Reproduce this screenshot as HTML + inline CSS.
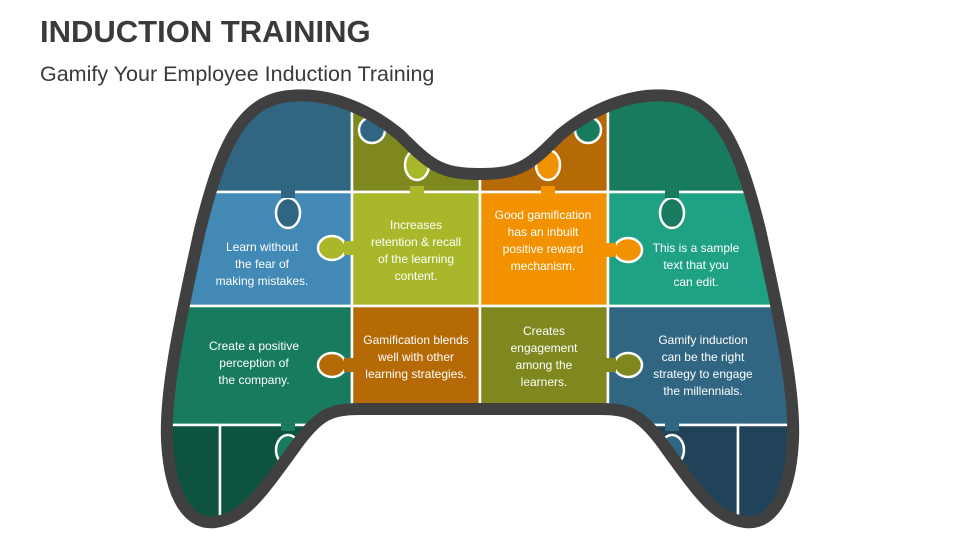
<!DOCTYPE html>
<html><head><meta charset="utf-8"><style>
body{margin:0;width:960px;height:540px;overflow:hidden;background:#fff;font-family:"Liberation Sans",sans-serif}
.t{position:absolute;left:40px;top:14px;font-size:31px;font-weight:bold;color:#3a3a3a}
.s{position:absolute;left:40px;top:62px;font-size:21.5px;color:#3a3a3a}
svg{position:absolute;left:0;top:0}
svg text{font-family:"Liberation Sans",sans-serif;font-size:12px;fill:#fff;text-anchor:middle}
</style></head><body>
<div class="t">INDUCTION TRAINING</div>
<div class="s">Gamify Your Employee Induction Training</div>
<svg width="960" height="540">
<defs><clipPath id="c"><path id="p" d="M290,96 C330,92 370,110 400,135 C430,165 440,174 480,174 C520,174 530,165 560,135 C590,110 630,92 670,96 C720,100 740,150 760,230 C780,320 795,390 793,440 C790,500 770,525 745,522 C715,518 700,495 660,440 C640,415 630,409 600,409 L360,409 C330,409 320,415 300,440 C260,495 245,518 215,522 C190,525 170,500 167,440 C165,390 180,320 200,230 C220,150 240,100 290,96 Z"/></clipPath></defs>
<g clip-path="url(#c)" stroke="#fff" stroke-width="2.5">
<rect x="150" y="80" width="202" height="112" fill="#316683"/>
<rect x="352" y="80" width="128" height="112" fill="#7e881f"/>
<rect x="480" y="80" width="128" height="112" fill="#b56a06"/>
<rect x="608" y="80" width="200" height="112" fill="#187b60"/>
<rect x="150" y="192" width="202" height="114" fill="#4289b5"/>
<rect x="352" y="192" width="128" height="114" fill="#a9b82a"/>
<rect x="480" y="192" width="128" height="114" fill="#f39200"/>
<rect x="608" y="192" width="200" height="114" fill="#1fa283"/>
<rect x="150" y="306" width="202" height="119" fill="#187b60"/>
<rect x="352" y="306" width="128" height="119" fill="#b56a06"/>
<rect x="480" y="306" width="128" height="119" fill="#7e881f"/>
<rect x="608" y="306" width="200" height="119" fill="#316683"/>
<rect x="150" y="425" width="70" height="120" fill="#0e5240"/>
<rect x="220" y="425" width="132" height="120" fill="#0e5240"/>
<rect x="608" y="425" width="130" height="120" fill="#21435a"/>
<rect x="738" y="425" width="70" height="120" fill="#21435a"/>
<ellipse cx="288" cy="213" rx="12" ry="15" fill="#316683"/>
<ellipse cx="417" cy="165" rx="12" ry="15" fill="#a9b82a"/>
<ellipse cx="548" cy="165" rx="12" ry="15" fill="#f39200"/>
<ellipse cx="672" cy="213" rx="12" ry="15" fill="#187b60"/>
<ellipse cx="332" cy="248" rx="14" ry="12" fill="#a9b82a"/>
<ellipse cx="628" cy="250" rx="14" ry="12" fill="#f39200"/>
<ellipse cx="332" cy="365" rx="14" ry="12" fill="#b56a06"/>
<ellipse cx="628" cy="365" rx="14" ry="12" fill="#7e881f"/>
<ellipse cx="288" cy="450" rx="12" ry="15" fill="#187b60"/>
<ellipse cx="672" cy="450" rx="12" ry="15" fill="#316683"/>
<circle cx="372" cy="130" r="13" fill="#316683"/>
<circle cx="588" cy="130" r="13" fill="#187b60"/>
</g>
<g>
<rect x="281" y="190" width="14" height="8" fill="#316683"/>
<rect x="410" y="186" width="14" height="8" fill="#a9b82a"/>
<rect x="541" y="186" width="14" height="8" fill="#f39200"/>
<rect x="665" y="190" width="14" height="8" fill="#187b60"/>
<rect x="344" y="241" width="10" height="14" fill="#a9b82a"/>
<rect x="606" y="243" width="10" height="14" fill="#f39200"/>
<rect x="344" y="358" width="10" height="14" fill="#b56a06"/>
<rect x="606" y="358" width="10" height="14" fill="#7e881f"/>
<rect x="281" y="423" width="14" height="8" fill="#187b60"/>
<rect x="665" y="423" width="14" height="8" fill="#316683"/>
</g>
<use href="#p" fill="none" stroke="#404040" stroke-width="12"/>
<text x="262" y="251">Learn without</text><text x="262" y="268">the fear of</text><text x="262" y="285">making mistakes.</text>
<text x="416" y="229">Increases</text><text x="416" y="246">retention &amp; recall</text><text x="416" y="263">of the learning</text><text x="416" y="280">content.</text>
<text x="543" y="219">Good gamification</text><text x="543" y="236">has an inbuilt</text><text x="543" y="253">positive reward</text><text x="543" y="270">mechanism.</text>
<text x="696" y="252">This is a sample</text><text x="696" y="269">text that you</text><text x="696" y="286">can edit.</text>
<text x="254" y="350">Create a positive</text><text x="254" y="367">perception of</text><text x="254" y="384">the company.</text>
<text x="416" y="344">Gamification blends</text><text x="416" y="361">well with other</text><text x="416" y="378">learning strategies.</text>
<text x="544" y="335">Creates</text><text x="544" y="352">engagement</text><text x="544" y="369">among the</text><text x="544" y="386">learners.</text>
<text x="703" y="344">Gamify induction</text><text x="703" y="361">can be the right</text><text x="703" y="378">strategy to engage</text><text x="703" y="395">the millennials.</text>
</svg>
</body></html>
